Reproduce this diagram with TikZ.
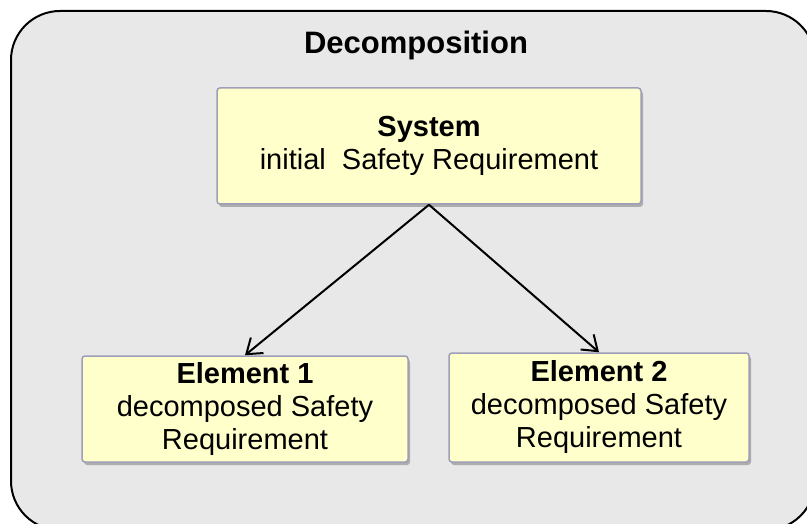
\documentclass[tikz,border=0pt]{standalone}
\usepackage{fontspec}
\setmainfont{Liberation Sans}
\usetikzlibrary{arrows.meta,shadows}
\definecolor{panelgrey}{RGB}{232,232,232}
\definecolor{reqyellow}{RGB}{255,255,204}
\definecolor{reqborder}{RGB}{158,158,184}
\tikzset{
  reqbox/.style={draw=reqborder, line width=1.5pt, fill=reqyellow,
    rounded corners=3pt, inner sep=0pt, align=center,
    font=\fontsize{29}{33}\selectfont,
    drop shadow={shadow xshift=2pt, shadow yshift=-3pt, fill=black, opacity=0.25}},
  flow/.style={line width=2pt, -{Straight Barb[length=14pt,width=20pt,line width=2pt]}},
  panel/.style={draw=black, line width=2pt, fill=panelgrey, rounded corners=49pt}
}
\begin{document}
\begin{tikzpicture}[x=1pt, y=-1pt]
  \clip (0,0) rectangle (807,524);
  % background panel
  \draw[panel] (11,11) rectangle (815,530);
  \node[anchor=base, font=\fontsize{31}{35}\selectfont\bfseries] (title) at (416,54) {Decomposition};
  % requirement boxes
  \node[reqbox, minimum width=424pt, minimum height=116pt] (sys) at (429,146)
    {\textbf{System}\\initial\ \ Safety Requirement};
  \node[reqbox, minimum width=326pt, minimum height=106pt] (el1) at (245,409)
    {\textbf{Element 1}\\decomposed Safety\\Requirement};
  \node[reqbox, minimum width=300pt, minimum height=109pt] (el2) at (599,407.5)
    {\textbf{Element 2}\\decomposed Safety\\Requirement};
  % decomposition arrows
  \draw[flow] (sys.south) -- (el1.north);
  \draw[flow] (sys.south) -- (el2.north);
\end{tikzpicture}
\end{document}
